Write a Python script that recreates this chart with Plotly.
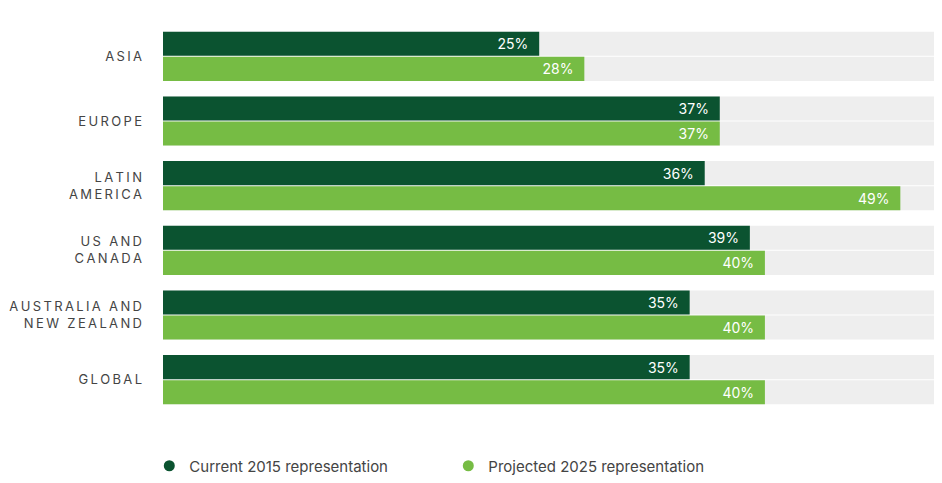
import plotly.graph_objects as go

regions = ["ASIA", "EUROPE", "LATIN<br>AMERICA", "US AND<br>CANADA",
           "AUSTRALIA AND<br>NEW ZEALAND", "GLOBAL"]
current_2015 = [25, 37, 36, 39, 35, 35]
projected_2025 = [28, 37, 49, 40, 40, 40]
x_max = 52.3

DARK = "#0b5330"
LIGHT = "#76bc44"
GREY = "#eeeeee"


def spaced(label):
    # imitate the letter spacing of the original axis labels
    return "<br>".join("\u2009".join(line) for line in label.split("<br>"))


cats = [spaced(r) for r in regions]
bw = 0.372
off_top = -0.38
off_bot = 0.008

fig = go.Figure()

# grey track behind each bar
for off in (off_top, off_bot):
    fig.add_trace(go.Bar(
        y=cats, x=[x_max] * len(cats), orientation="h",
        width=bw, offset=off, marker_color=GREY, marker_line_width=0,
        hoverinfo="skip", showlegend=False,
    ))

fig.add_trace(go.Bar(
    y=cats, x=current_2015, orientation="h", width=bw, offset=off_top,
    marker_color=DARK, marker_line_width=0, showlegend=False,
    text=[f"{v}%\u00a0\u00a0" for v in current_2015],
    textposition="inside", insidetextanchor="end", textangle=0,
    textfont=dict(color="white", size=14, family="Inter"),
))
fig.add_trace(go.Bar(
    y=cats, x=projected_2025, orientation="h", width=bw, offset=off_bot,
    marker_color=LIGHT, marker_line_width=0, showlegend=False,
    text=[f"{v}%\u00a0\u00a0" for v in projected_2025],
    textposition="inside", insidetextanchor="end", textangle=0,
    textfont=dict(color="white", size=14, family="Inter"),
))

# legend entries with round markers
for name, col in (("Current 2015 representation", DARK),
                  ("Projected 2025 representation", LIGHT)):
    fig.add_trace(go.Scatter(
        x=[None], y=[None], mode="markers", name=name,
        marker=dict(symbol="circle", size=11, color=col),
    ))

# page body has an 8px margin, so the figure is shifted by it
fig.update_layout(
    width=942, height=467,
    margin=dict(l=155, r=0, t=16, b=63),
    barmode="overlay",
    paper_bgcolor="white", plot_bgcolor="white",
    font=dict(family="Inter", color="#444444"),
    xaxis=dict(range=[0, x_max], visible=False, fixedrange=True),
    yaxis=dict(autorange="reversed", showgrid=False, zeroline=False,
               ticks="", ticklabelstandoff=20, automargin=False,
               tickfont=dict(size=13, color="#444444")),
    legend=dict(orientation="h", xref="container", x=0.15,
                yref="container", y=0.0193, yanchor="middle",
                entrywidth=254, font=dict(size=15, color="#444444")),
    showlegend=True,
)

fig.write_html("out.html")
